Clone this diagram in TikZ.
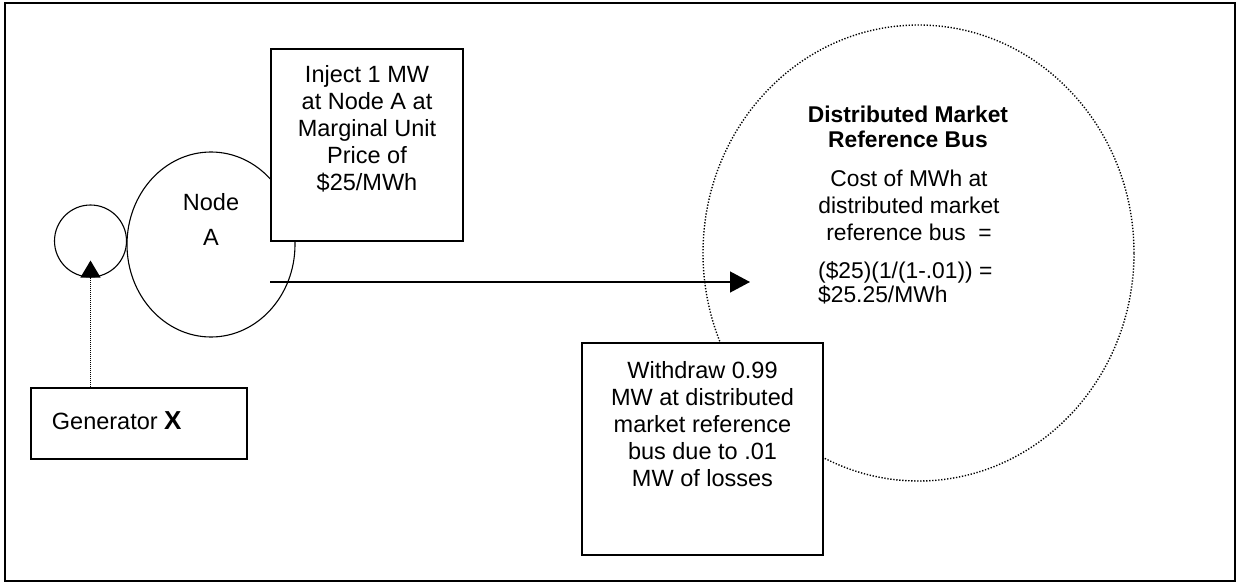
\documentclass[tikz,border=0pt]{standalone}
\usepackage{fontspec}
\setmainfont{Liberation Sans}
\usetikzlibrary{arrows.meta,shapes.geometric}

\begin{document}
\begin{tikzpicture}[x=1pt,y=-1pt,
  outerframe/.style={draw,line width=2pt},
  txtbox/.style={draw,line width=1.3pt,fill=white,inner sep=0pt},
  ringline/.style={draw,line width=1.1pt,inner sep=0pt},
  dots/.style={draw,line width=1.4pt,dash pattern=on 1.3pt off 1.7pt},
  txt/.style={inner sep=0pt,align=center,font=\fontsize{23.5}{27}\selectfont},
  flow/.style={line width=1.3pt,-{Triangle[length=20pt,width=21pt]}},
  feed/.style={line width=1.2pt,dash pattern=on 1pt off 1pt,-{Triangle[length=17pt,width=20pt]}},
]
\useasboundingbox (0,0) rectangle (1236,583);
\draw[outerframe] (4.5,3.5) rectangle (1234.5,581);

% distributed market reference bus
\node[ellipse,dots,minimum width=431pt,minimum height=456pt,inner sep=0pt] (bus) at (918.5,253) {};
\node[txtbox,minimum width=241pt,minimum height=212pt] (withdraw) at (702.5,449) {};

% node A with generator ring
\node[ellipse,ringline,minimum width=168pt,minimum height=185pt] (nodeA) at (211,244.5) {};
\node[circle,ringline,minimum size=72pt] (ringgen) at (90.5,241) {};
\node[txtbox,minimum width=192pt,minimum height=192pt] (inject) at (367,145) {};
\node[txtbox,minimum width=216pt,minimum height=71pt] (gen) at (139,423.5) {};

% texts
\node[txt,anchor=north] (injecttext) at (367,65) {Inject 1 MW\\at Node A at\\Marginal Unit\\Price of\\\$25/MWh};
\node[txt,anchor=north,font=\fontsize{23.5}{35}\selectfont] (nodeAtext) at (211,193) {Node\\A};
\node[txt,anchor=north west] (gentext) at (51.7,411.5) {Generator {\fontsize{26}{27}\selectfont\bfseries X}};
\node[txt,anchor=north] (withdrawtext) at (702.5,361.7) {Withdraw 0.99\\MW at distributed\\market reference\\bus due to .01\\MW of losses};
\node[txt,anchor=north,font=\fontsize{22.8}{25}\selectfont\bfseries] (bustitle) at (908,106) {Distributed Market\\Reference Bus};
\node[txt,anchor=north,font=\fontsize{22.8}{26.7}\selectfont] (buscost) at (909,170) {Cost of MWh at\\distributed market\\reference bus~~=};
\node[txt,anchor=north west,align=left,font=\fontsize{22.8}{24}\selectfont] (busprice) at (818,261.5) {(\$25)(1/(1-.01)) =\\\$25.25/MWh};

% connectors
\draw[feed] (gen.north -| ringgen.south) -- ([yshift=17pt]ringgen.south);
\coordinate (flowstart) at (270,282);
\coordinate (flowend) at (750,282);
\draw[flow] (flowstart) -- (flowend);
\end{tikzpicture}
\end{document}
